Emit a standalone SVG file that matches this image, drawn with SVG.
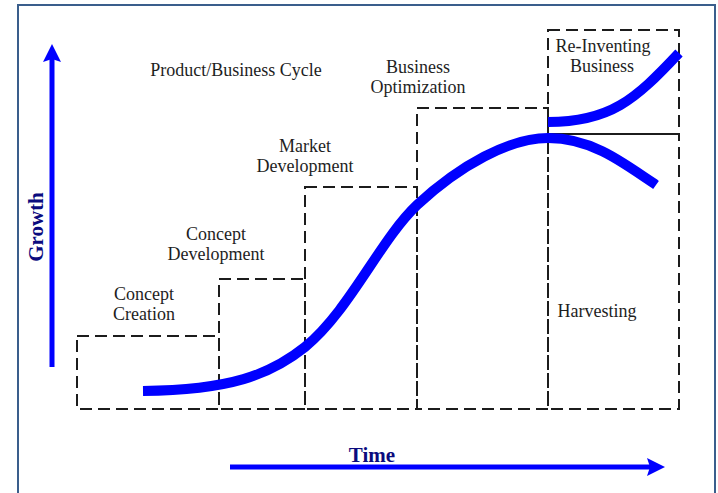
<svg xmlns="http://www.w3.org/2000/svg" width="718" height="493" viewBox="0 0 718 493">
  <defs>
    <style>
      .lbl { font-family: "Liberation Serif", "Times New Roman", serif; font-size: 18px; fill: #1e1e1e; text-anchor: middle; }
      .axis { font-family: "Liberation Serif", "Times New Roman", serif; font-size: 21px; font-weight: bold; fill: #0b0b7e; text-anchor: middle; }
      .stage { fill: none; stroke: #1c1c1c; stroke-width: 2; stroke-dasharray: 12 6; }
      .curve { fill: none; stroke: #0000ff; stroke-width: 10; stroke-linecap: butt; }
      .axisline { stroke: #0000ff; stroke-width: 5; fill: none; }
    </style>
  </defs>

  <!-- page background and frame -->
  <rect x="0" y="0" width="718" height="493" fill="#ffffff"/>
  <rect x="18" y="5" width="697" height="500" fill="none" stroke="#3a5e8c" stroke-width="2"/>

  <!-- stage boxes -->
  <g id="concept-creation">
    <rect class="stage" x="77" y="336" width="142" height="73"/>
    <text class="lbl" x="144" y="300">Concept</text>
    <text class="lbl" x="144" y="320">Creation</text>
  </g>
  <g id="concept-development">
    <rect class="stage" x="219" y="279" width="86" height="130"/>
    <text class="lbl" x="216" y="240">Concept</text>
    <text class="lbl" x="216" y="260">Development</text>
  </g>
  <g id="market-development">
    <rect class="stage" x="305" y="187" width="112" height="222"/>
    <text class="lbl" x="305" y="152">Market</text>
    <text class="lbl" x="305" y="172">Development</text>
  </g>
  <g id="business-optimization">
    <rect class="stage" x="417" y="108" width="131" height="301"/>
    <text class="lbl" x="418" y="73">Business</text>
    <text class="lbl" x="418" y="93">Optimization</text>
  </g>
  <g id="harvesting">
    <rect class="stage" x="548" y="134" width="131" height="275"/>
    <text class="lbl" x="597" y="317">Harvesting</text>
  </g>
  <g id="re-inventing">
    <rect class="stage" x="548" y="30" width="131" height="104"/>
    <text class="lbl" x="603" y="52">Re-Inventing</text>
    <text class="lbl" x="602" y="72">Business</text>
  </g>

  <g id="title">
    <text class="lbl" x="236" y="76">Product/Business Cycle</text>
  </g>

  <!-- growth curves -->
  <g id="connectors">
    <path class="curve" d="M143,391 C230,390 270,375 305,347 C350,310 380,240 417,205 C460,165 510,138 548,138 C590,138 620,160 656,185"/>
    <path class="curve" d="M548,122 C610,122 635,100 679,53"/>
  </g>

  <!-- axes -->
  <g id="growth-axis">
    <line class="axisline" x1="52" y1="367" x2="52" y2="58"/>
    <polygon points="52,44 61,62 52,59 43,62" fill="#0000ff"/>
    <text class="axis" transform="translate(43,227) rotate(-90)">Growth</text>
  </g>
  <g id="time-axis">
    <line class="axisline" x1="230" y1="467" x2="650" y2="467"/>
    <polygon points="665,467 647,476 650,467 647,458" fill="#0000ff"/>
    <text class="axis" x="372" y="462">Time</text>
  </g>
</svg>
